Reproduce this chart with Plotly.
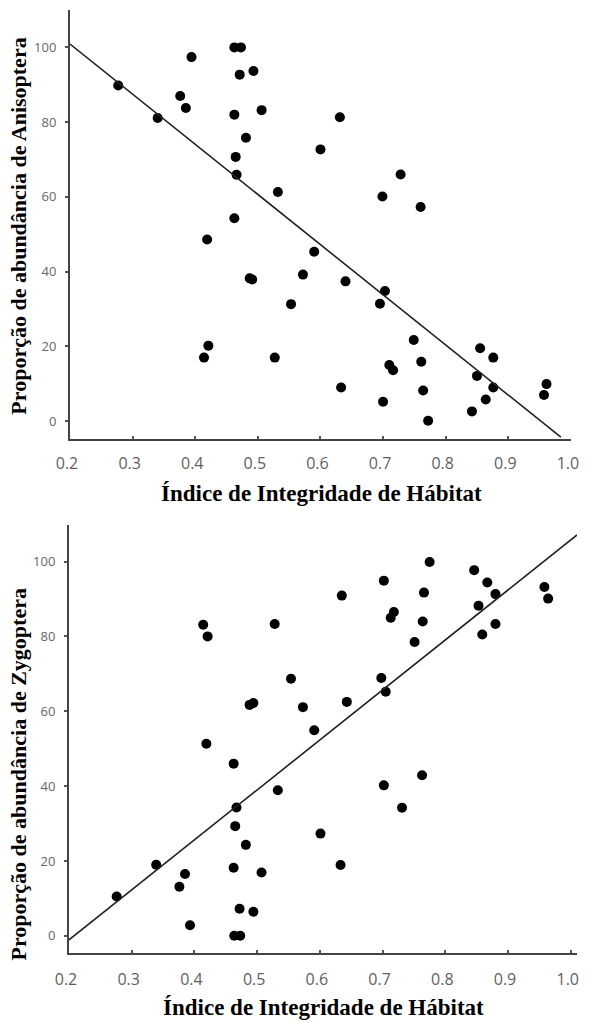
import plotly.graph_objects as go
from plotly.subplots import make_subplots

# ---- Data: Anisoptera (top panel) ----
aniso_x = [0.277, 0.340, 0.376, 0.385, 0.394, 0.4625, 0.473, 0.471, 0.493, 0.4625,
           0.506, 0.481, 0.4646, 0.466, 0.532, 0.4625, 0.419, 0.631, 0.600, 0.728,
           0.699, 0.760, 0.590, 0.487, 0.491, 0.553, 0.421, 0.414, 0.527, 0.572,
           0.640, 0.703, 0.695, 0.749, 0.855, 0.876, 0.761, 0.710, 0.716, 0.850,
           0.876, 0.961, 0.957, 0.633, 0.764, 0.864, 0.700, 0.842, 0.772]
aniso_y = [89.8, 81.1, 87.0, 83.8, 97.4, 100.0, 100.0, 92.7, 93.7, 82.0,
           83.2, 75.8, 70.7, 65.9, 61.3, 54.3, 48.6, 81.3, 72.7, 66.0,
           60.1, 57.3, 45.3, 38.2, 37.9, 31.3, 20.2, 17.0, 17.0, 39.2,
           37.4, 34.8, 31.4, 21.7, 19.5, 17.0, 15.9, 15.0, 13.6, 12.1,
           9.0, 9.9, 7.0, 9.0, 8.2, 5.8, 5.2, 2.6, 0.1]
aniso_fit_x = [0.2, 0.984]
aniso_fit_y = [100.9, -4.3]

# ---- Data: Zygoptera (bottom panel) ----
zygo_x = [0.414, 0.421, 0.528, 0.554, 0.488, 0.494, 0.419, 0.4625, 0.775, 0.846,
          0.867, 0.702, 0.635, 0.766, 0.880, 0.958, 0.964, 0.853, 0.718, 0.713,
          0.764, 0.880, 0.859, 0.751, 0.573, 0.591, 0.643, 0.698, 0.705, 0.533,
          0.467, 0.465, 0.482, 0.4625, 0.507, 0.339, 0.276, 0.376, 0.385, 0.393,
          0.472, 0.494, 0.4635, 0.473, 0.702, 0.763, 0.731, 0.601, 0.633]
zygo_y = [83.1, 80.0, 83.3, 68.7, 61.7, 62.2, 51.3, 46.0, 99.9, 97.7,
          94.4, 94.9, 90.9, 91.7, 91.3, 93.2, 90.1, 88.2, 86.5, 85.0,
          84.0, 83.3, 80.5, 78.5, 61.1, 54.9, 62.5, 68.9, 65.2, 38.9,
          34.3, 29.3, 24.3, 18.2, 16.9, 19.0, 10.5, 13.1, 16.5, 2.8,
          7.2, 6.4, 0.0, 0.0, 40.2, 42.9, 34.2, 27.3, 18.9]
zygo_fit_x = [0.2, 1.01]
zygo_fit_y = [-1.1, 107.1]

x_ticks = [0.2, 0.3, 0.4, 0.5, 0.6, 0.7, 0.8, 0.9, 1.0]
x_tick_text = ["0.2", "0.3", "0.4", "0.5", "0.6", "0.7", "0.8", "0.9", "1.0"]
y_ticks = [0, 20, 40, 60, 80, 100]

x_title = "Índice de Integridade de Hábitat"
y_title_top = "Proporção de abundância de Anisoptera"
y_title_bottom = "Proporção de abundância de Zygoptera"

fig = make_subplots(rows=2, cols=1)

marker = dict(color="black", size=10)
line = dict(color="#222222", width=1.6)

fig.add_trace(go.Scatter(x=aniso_x, y=aniso_y, mode="markers", marker=marker), row=1, col=1)
fig.add_trace(go.Scatter(x=aniso_fit_x, y=aniso_fit_y, mode="lines", line=line), row=1, col=1)
fig.add_trace(go.Scatter(x=zygo_x, y=zygo_y, mode="markers", marker=marker), row=2, col=1)
fig.add_trace(go.Scatter(x=zygo_fit_x, y=zygo_fit_y, mode="lines", line=line), row=2, col=1)

xtickfont = dict(family="Open Sans, sans-serif", size=16, color="#5f5f5f")
ytickfont = dict(family="Open Sans, sans-serif", size=13, color="#666666")
base = dict(showline=True, linecolor="#444444", linewidth=2, showgrid=False,
            zeroline=False, ticklen=3, tickcolor="#555555", tickwidth=1.5)
xcommon = dict(ticks="inside", tickfont=xtickfont, tickvals=x_ticks, ticktext=x_tick_text,
               ticklabelshift=-3, ticklabeloverflow="allow", **base)
ycommon = dict(ticks="outside", tickfont=ytickfont, tickvals=y_ticks, ticklabelstandoff=6, **base)

fig.update_layout(
    width=589, height=1022,
    margin=dict(l=69, r=4, t=10, b=69),
    plot_bgcolor="white", paper_bgcolor="white",
    showlegend=False,
    xaxis=dict(domain=[0.002, 0.988], range=[0.2, 1.0], ticklabelstandoff=9, **xcommon),
    yaxis=dict(domain=[0.545, 1.0], range=[-4.8, 110], **ycommon),
    xaxis2=dict(domain=[0.0, 1.0], range=[0.2, 1.01], ticklabelstandoff=11, **xcommon),
    yaxis2=dict(domain=[0.0, 0.454], range=[-4.6, 109.8], **ycommon),
)

title_font_x = dict(family="Liberation Serif, Times New Roman, serif", size=23, color="black")
title_font_y = dict(family="Liberation Serif, Times New Roman, serif", size=22, color="black")
annos = [
    dict(text="<b>%s</b>" % x_title, x=0.498, y=0.4878, xref="paper", yref="paper",
         xanchor="center", yanchor="middle", showarrow=False, font=title_font_x),
    dict(text="<b>%s</b>" % x_title, x=0.5, y=-0.0583, xref="paper", yref="paper",
         xanchor="center", yanchor="middle", showarrow=False, font=title_font_x),
    dict(text="<b>%s</b>" % y_title_top, x=-0.099, y=0.771, xref="paper", yref="paper",
         xanchor="center", yanchor="middle", textangle=-90, showarrow=False, font=title_font_y),
    dict(text="<b>%s</b>" % y_title_bottom, x=-0.099, y=0.189, xref="paper", yref="paper",
         xanchor="center", yanchor="middle", textangle=-90, showarrow=False, font=title_font_y),
]
fig.update_layout(annotations=annos)

fig.write_html("out.html", config={"displayModeBar": False},
               post_script="document.body.style.margin='0';document.body.style.overflow='hidden';")
